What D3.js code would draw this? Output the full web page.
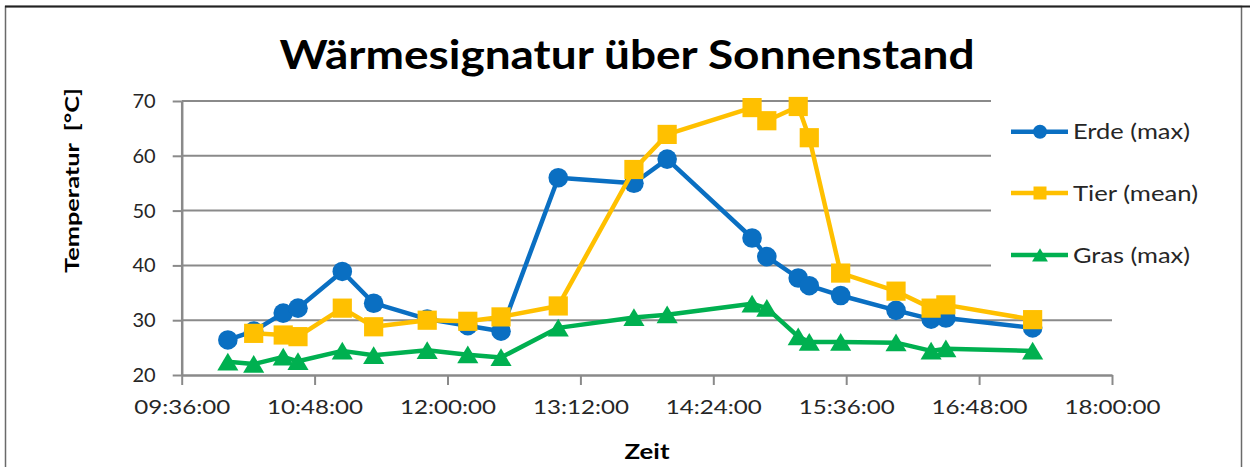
<!DOCTYPE html>
<html>
<head>
<meta charset="utf-8">
<script src="https://cdn.jsdelivr.net/npm/d3@7"></script>
<style>
  html, body { margin: 0; padding: 0; background: #fff; }
  svg { display: block; }
  text { font-family: Lato, "Open Sans", "Noto Sans", sans-serif; }
</style>
</head>
<body>
<svg id="chart" width="1250" height="467"></svg>
<script>
// Measurement times (hh:mm)
const times = ["10:01","10:15","10:31","10:39","11:03","11:20","11:49","12:11","12:29","13:00",
               "13:41","13:59","14:45","14:53","15:10","15:16","15:33","16:03","16:22","16:30","17:17"];

// Temperatures in °C per series (null = no measurement)
const erdeMax = [26.4, 28.0, 31.3, 32.2, 38.9, 33.1, 30.2, 29.0, 28.0, 56.0,
                 55.0, 59.4, 45.0, 41.6, 37.7, 36.3, 34.5, 31.8, 30.2, 30.4, 28.6];
const tierMean = [null, 27.6, 27.3, 27.0, 32.2, 28.8, 30.0, 29.8, 30.6, 32.6,
                  57.5, 63.9, 68.8, 66.4, 69.0, 63.3, 38.6, 35.3, 32.2, 32.8, 30.1];
const grasMax = [22.4, 22.0, 23.3, 22.5, 24.4, 23.6, 24.5, 23.7, 23.2, 28.6,
                 30.5, 31.0, 33.0, 32.2, 27.0, 26.0, 26.0, 25.9, 24.4, 24.8, 24.4];

const seriesNames = ["Erde (max)", "Tier (mean)", "Gras (max)"];
const xTickLabels = ["09:36:00","10:48:00","12:00:00","13:12:00","14:24:00","15:36:00","16:48:00","18:00:00"];
const yTickValues = [20, 30, 40, 50, 60, 70];

const parseHM = d3.timeParse("%H:%M");
const parseHMS = d3.timeParse("%H:%M:%S");
const fmtHMS = d3.timeFormat("%H:%M:%S");

const svg = d3.select("#chart");
const plot = { left: 181.7, right: 1112, top: 101, bottom: 375 };

const xTicks = xTickLabels.map(parseHMS);
const x = d3.scaleTime()
  .domain([xTicks[0], xTicks[xTicks.length - 1]])
  .range([plot.left, plot.right]);
const y = d3.scaleLinear().domain([20, 70]).range([plot.bottom, plot.top]);

const axisGrey = "#8a8a8a";
const textColor = "#262626";

// outer frame
svg.append("rect")
  .attr("x", 5.5).attr("y", 6.5).attr("width", 1236).attr("height", 480)
  .attr("fill", "#fff").attr("stroke", "#6a6a6a").attr("stroke-width", 1.5);
svg.append("line")
  .attr("x1", 5).attr("x2", 1250).attr("y1", 6.5).attr("y2", 6.5)
  .attr("stroke", "#222").attr("stroke-width", 2);

// title
svg.append("text")
  .attr("x", 627).attr("y", 69)
  .attr("text-anchor", "middle")
  .attr("font-size", 40).attr("font-weight", 700).attr("fill", "#000")
  .attr("textLength", 695).attr("lengthAdjust", "spacingAndGlyphs")
  .text("Wärmesignatur über Sonnenstand");

// horizontal gridlines
svg.append("g").selectAll("line")
  .data(yTickValues.filter(v => v > 20))
  .join("line")
  .attr("x1", plot.left).attr("x2", plot.right)
  .attr("y1", d => y(d)).attr("y2", d => y(d))
  .attr("stroke", axisGrey).attr("stroke-width", 2);

// y axis
const yAxis = svg.append("g")
  .attr("transform", `translate(${plot.left},0)`)
  .call(d3.axisLeft(y).tickValues(yTickValues).tickSize(9).tickPadding(17).tickSizeOuter(0));
yAxis.select(".domain").attr("stroke", axisGrey).attr("stroke-width", 2.5);
yAxis.selectAll(".tick line").attr("stroke", axisGrey).attr("stroke-width", 2);
yAxis.selectAll(".tick text")
  .attr("font-size", 20).attr("fill", textColor)
  .style("font-family", "Lato, 'Open Sans', sans-serif");

// x axis
const xAxis = svg.append("g")
  .attr("transform", `translate(0,${plot.bottom})`)
  .call(d3.axisBottom(x).tickValues(xTicks).tickFormat(fmtHMS).tickSize(10).tickPadding(15).tickSizeOuter(0));
xAxis.select(".domain").attr("stroke", axisGrey).attr("stroke-width", 2.5);
xAxis.selectAll(".tick line").attr("stroke", axisGrey).attr("stroke-width", 2);
xAxis.selectAll(".tick text")
  .attr("font-size", 20).attr("fill", textColor)
  .attr("textLength", 96).attr("lengthAdjust", "spacingAndGlyphs")
  .style("font-family", "Lato, 'Open Sans', sans-serif");

// axis titles
svg.append("text")
  .attr("transform", "translate(79,180.5) rotate(-90)")
  .attr("text-anchor", "middle")
  .attr("font-size", 19).attr("font-weight", 700).attr("fill", "#000")
  .attr("textLength", 185).attr("lengthAdjust", "spacingAndGlyphs")
  .attr("xml:space", "preserve")
  .style("white-space", "pre")
  .text("Temperatur  [°C]");

svg.append("text")
  .attr("x", 647).attr("y", 459)
  .attr("text-anchor", "middle")
  .attr("font-size", 21).attr("font-weight", 700).attr("fill", "#000")
  .attr("textLength", 45).attr("lengthAdjust", "spacingAndGlyphs")
  .text("Zeit");

// legend background covers the upper gridlines
svg.append("rect")
  .attr("x", 991).attr("y", 95).attr("width", 245).attr("height", 195)
  .attr("fill", "#fff");

// series
const colors = ["#0a6fc2", "#ffc000", "#00b050"];
const seriesValues = [erdeMax, tierMean, grasMax];
const tDates = times.map(parseHM);

function markerPath(kind, s) {
  if (kind === 0) return d3.symbol(d3.symbolCircle, Math.PI * s * s)();
  if (kind === 1) return `M${-s},${-s}H${s}V${s}H${-s}Z`;
  return `M0,${-s * 0.95}L${s * 1.1},${s * 0.9}L${-s * 1.1},${s * 0.9}Z`;
}
const markerSize = [9.8, 9.6, 9.6];
const legendSize = [7, 6.5, 7.2];

const line = d3.line()
  .defined(d => d.v != null)
  .x(d => x(d.t)).y(d => y(d.v));

seriesValues.forEach((vals, i) => {
  const pts = vals.map((v, j) => ({ t: tDates[j], v }));
  const g = svg.append("g");
  g.append("path")
    .datum(pts)
    .attr("d", line)
    .attr("fill", "none")
    .attr("stroke", colors[i]).attr("stroke-width", 4.5)
    .attr("stroke-linejoin", "round");
  g.selectAll("path.m")
    .data(pts.filter(d => d.v != null))
    .join("path")
    .attr("class", "m")
    .attr("transform", d => `translate(${x(d.t)},${y(d.v)})`)
    .attr("d", markerPath(i, markerSize[i]))
    .attr("fill", colors[i]);
});

// legend
const legendY = [131.7, 193, 255];
const legendW = [117, 125, 117];
seriesNames.forEach((name, i) => {
  const g = svg.append("g").attr("transform", `translate(0,${legendY[i]})`);
  g.append("line")
    .attr("x1", 1011).attr("x2", 1068).attr("y1", 0).attr("y2", 0)
    .attr("stroke", colors[i]).attr("stroke-width", 4.5);
  g.append("path")
    .attr("transform", "translate(1040,0)")
    .attr("d", markerPath(i, legendSize[i]))
    .attr("fill", colors[i]);
  g.append("text")
    .attr("x", 1073).attr("y", 0).attr("dy", "0.36em")
    .attr("font-size", 21).attr("fill", textColor)
    .attr("textLength", legendW[i]).attr("lengthAdjust", "spacingAndGlyphs")
    .text(name);
});
</script>
</body>
</html>
